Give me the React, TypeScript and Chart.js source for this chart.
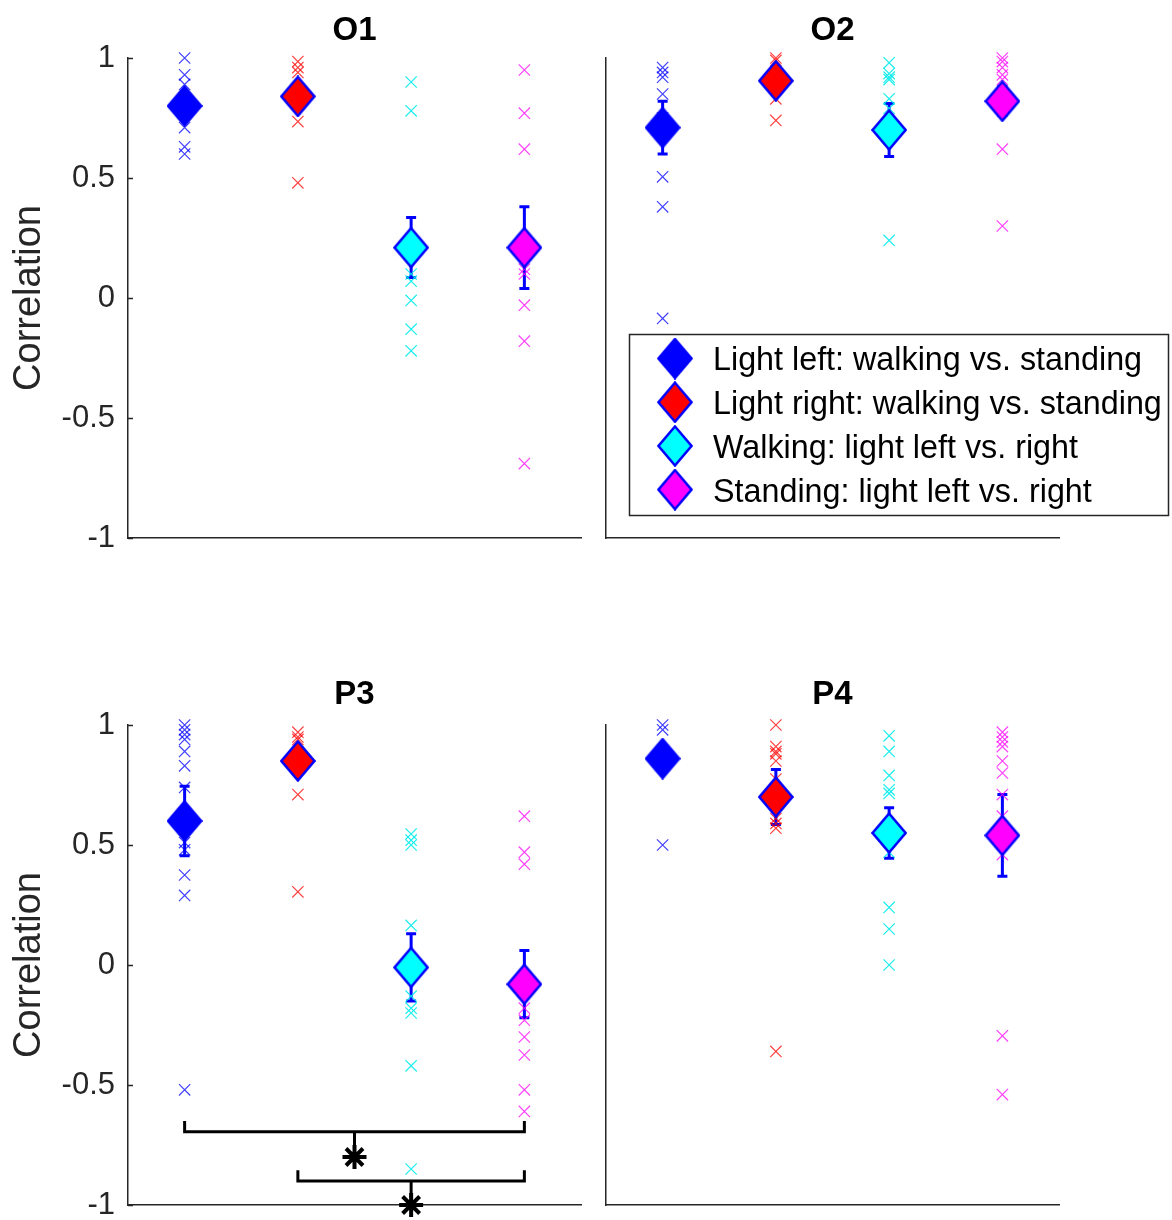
import React, { useEffect, useRef } from "react";
import { Chart, registerables } from "chart.js";

Chart.register(...registerables);

const FONT = '"Liberation Sans", Arial, Helvetica, sans-serif';
const AXIS_COLOR = "#262626";

// ---------- data ----------
const conditionLabels = [
  "Light left: walking vs. standing",
  "Light right: walking vs. standing",
  "Walking: light left vs. right",
  "Standing: light left vs. right",
];
const categoryX = [1, 2, 3, 4];
const yTickValues = [-1, -0.5, 0, 0.5, 1];
const yAxisLabel = "Correlation";
const panelTitles = ["O1", "O2", "P3", "P4"];

const markerFill = ["#0000ff", "#ff0000", "#00ffff", "#ff00ff"];
const crossColor = [
  "rgba(0,0,255,0.75)",
  "rgba(255,0,0,0.75)",
  "rgba(0,235,235,0.9)",
  "rgba(255,0,255,0.75)",
];

// O1
const o1LightLeft = [1.0, 0.93, 0.89, 0.82, 0.78, 0.71, 0.63, 0.6];
const o1LightRight = [0.985, 0.96, 0.94, 0.87, 0.84, 0.735, 0.48];
const o1Walking = [0.9, 0.78, 0.1, 0.07, -0.01, -0.13, -0.22];
const o1Standing = [0.95, 0.77, 0.62, 0.12, 0.1, -0.03, -0.18, -0.69];
const o1Means = [0.8, 0.84, 0.21, 0.21];
const o1Errors = [0.04, 0.05, 0.125, 0.17];

// O2
const o2LightLeft = [0.96, 0.94, 0.92, 0.85, 0.75, 0.7, 0.505, 0.38, -0.085];
const o2LightRight = [1.0, 0.99, 0.93, 0.9, 0.87, 0.83, 0.74];
const o2Walking = [0.98, 0.935, 0.92, 0.91, 0.83, 0.79, 0.7, 0.24];
const o2Standing = [1.0, 0.985, 0.96, 0.93, 0.91, 0.82, 0.62, 0.3];
const o2Means = [0.71, 0.905, 0.7, 0.82];
const o2Errors = [0.11, 0.04, 0.11, 0.06];

// P3
const p3LightLeft = [1.0, 0.98, 0.96, 0.94, 0.89, 0.83, 0.74, 0.51, 0.48, 0.375, 0.29, -0.52];
const p3LightRight = [0.97, 0.95, 0.94, 0.85, 0.71, 0.305];
const p3Walking = [0.546, 0.52, 0.5, 0.165, -0.13, -0.18, -0.2, -0.42, -0.85];
const p3Standing = [0.62, 0.47, 0.42, -0.18, -0.23, -0.3, -0.375, -0.52, -0.61];
const p3Means = [0.6, 0.85, -0.01, -0.08];
const p3Errors = [0.145, 0.05, 0.14, 0.14];

// P3 significance brackets
const p3BracketFrom = [1, 2];
const p3BracketTo = [4, 4];
const p3BracketEndY = [-0.65, -0.855];
const p3BracketBarY = [-0.695, -0.9];
const p3StarX = [2.5, 3];
const p3StarY = [-0.8, -1.0];

// P4
const p4LightLeft = [1.0, 0.98, 0.86, 0.5];
const p4LightRight = [1.0, 0.91, 0.89, 0.88, 0.85, 0.775, 0.61, 0.59, 0.57, -0.36];
const p4Walking = [0.955, 0.89, 0.79, 0.73, 0.715, 0.47, 0.24, 0.15, 0.0];
const p4Standing = [0.97, 0.95, 0.93, 0.91, 0.85, 0.8, 0.71, 0.62, 0.46, -0.295, -0.54];
const p4Means = [0.86, 0.7, 0.55, 0.54];
const p4Errors = [0.04, 0.115, 0.105, 0.17];

// ---------- layout ----------
type Panel = {
  title: string;
  groups: number[][];
  means: number[];
  errors: number[];
  yAxis: boolean;
  legend: boolean;
  brackets: boolean;
  left: number;
  top: number;
  w: number;
  h: number;
  padding: { left: number; right: number; top: number; bottom: number };
  titlePadding: { top: number; bottom: number };
};

const topTitlePad = { top: 11.2, bottom: 7.2 };
const bottomTitlePad = { top: 75.2, bottom: 10.2 };

const panels: Panel[] = [
  {
    title: panelTitles[0],
    groups: [o1LightLeft, o1LightRight, o1Walking, o1Standing],
    means: o1Means,
    errors: o1Errors,
    yAxis: true,
    legend: false,
    brackets: false,
    left: 0,
    top: 0,
    w: 590,
    h: 560,
    padding: { left: 0, right: 9, top: 0, bottom: 22 },
    titlePadding: topTitlePad,
  },
  {
    title: panelTitles[1],
    groups: [o2LightLeft, o2LightRight, o2Walking, o2Standing],
    means: o2Means,
    errors: o2Errors,
    yAxis: false,
    legend: true,
    brackets: false,
    left: 590,
    top: 0,
    w: 582,
    h: 560,
    padding: { left: 16, right: 113, top: 0, bottom: 22 },
    titlePadding: topTitlePad,
  },
  {
    title: panelTitles[2],
    groups: [p3LightLeft, p3LightRight, p3Walking, p3Standing],
    means: p3Means,
    errors: p3Errors,
    yAxis: true,
    legend: false,
    brackets: true,
    left: 0,
    top: 600,
    w: 590,
    h: 620,
    padding: { left: 0, right: 9, top: 0, bottom: 15 },
    titlePadding: bottomTitlePad,
  },
  {
    title: panelTitles[3],
    groups: [p4LightLeft, p4LightRight, p4Walking, p4Standing],
    means: p4Means,
    errors: p4Errors,
    yAxis: false,
    legend: false,
    brackets: false,
    left: 590,
    top: 600,
    w: 582,
    h: 620,
    padding: { left: 16, right: 113, top: 0, bottom: 15 },
    titlePadding: bottomTitlePad,
  },
];

// ---------- diamond marker images ----------
const diamondCache: Record<string, HTMLCanvasElement> = {};
function diamondImage(fill: string): HTMLCanvasElement {
  if (diamondCache[fill]) return diamondCache[fill];
  const c = document.createElement("canvas");
  c.width = 36;
  c.height = 42;
  const g = c.getContext("2d")!;
  g.beginPath();
  g.moveTo(18, 1.5);
  g.lineTo(34.5, 21);
  g.lineTo(18, 40.5);
  g.lineTo(1.5, 21);
  g.closePath();
  g.fillStyle = fill;
  g.fill();
  g.strokeStyle = "#0000ff";
  g.lineWidth = 2.5;
  g.lineJoin = "miter";
  g.stroke();
  diamondCache[fill] = c;
  return c;
}

function buildConfig(cfg: Panel): any {
  const datasets: any[] = [];
  cfg.means.forEach((m, i) => {
    datasets.push({
      label: conditionLabels[i],
      data: [{ x: categoryX[i], y: m }],
      pointStyle: diamondImage(markerFill[i]),
      pointRadius: 20,
      backgroundColor: markerFill[i],
      borderColor: "#0000ff",
      clip: false,
      order: 0,
    });
  });
  cfg.groups.forEach((vals, i) => {
    datasets.push({
      label: conditionLabels[i] + " (individual)",
      data: vals.map((v) => ({ x: categoryX[i], y: v })),
      pointStyle: "crossRot",
      pointRadius: 8,
      borderWidth: 1.2,
      borderColor: crossColor[i],
      backgroundColor: "transparent",
      clip: false,
      order: 1,
    });
  });
  if (cfg.brackets) {
    p3BracketFrom.forEach((from, k) => {
      const to = p3BracketTo[k];
      datasets.push({
        label: "bracket " + (k + 1),
        data: [
          { x: from, y: p3BracketEndY[k] },
          { x: from, y: p3BracketBarY[k] },
          { x: to, y: p3BracketBarY[k] },
          { x: to, y: p3BracketEndY[k] },
        ],
        showLine: true,
        borderColor: "#000",
        borderWidth: 3,
        pointRadius: 0,
        fill: false,
        clip: false,
        order: 2,
      });
      datasets.push({
        label: "stem " + (k + 1),
        data: [
          { x: p3StarX[k], y: p3BracketBarY[k] },
          { x: p3StarX[k], y: p3StarY[k] },
        ],
        showLine: true,
        borderColor: "#000",
        borderWidth: 3,
        pointRadius: 0,
        fill: false,
        clip: false,
        order: 2,
      });
    });
    datasets.push({
      label: "significance",
      data: p3StarX.map((x, k) => ({ x, y: p3StarY[k] })),
      pointStyle: "star",
      pointRadius: 12,
      borderWidth: 4,
      borderColor: "#000",
      backgroundColor: "#000",
      clip: false,
      order: 0,
    });
  }

  const extras = {
    id: "panelExtras",
    beforeDatasetsDraw(chart: any) {
      const { ctx } = chart;
      const x = chart.scales.x;
      const y = chart.scales.y;
      ctx.save();
      ctx.strokeStyle = "#0000ff";
      ctx.lineWidth = 3;
      ctx.lineCap = "butt";
      cfg.means.forEach((m, i) => {
        const px = x.getPixelForValue(categoryX[i]);
        const t = y.getPixelForValue(m + cfg.errors[i]);
        const b = y.getPixelForValue(m - cfg.errors[i]);
        ctx.beginPath();
        ctx.moveTo(px, t);
        ctx.lineTo(px, b);
        ctx.moveTo(px - 5, t);
        ctx.lineTo(px + 5, t);
        ctx.moveTo(px - 5, b);
        ctx.lineTo(px + 5, b);
        ctx.stroke();
      });
      ctx.restore();
    },
    afterDraw(chart: any) {
      const { ctx, chartArea } = chart;
      const y = chart.scales.y;
      if (cfg.yAxis) {
        ctx.save();
        ctx.strokeStyle = AXIS_COLOR;
        ctx.lineWidth = 1.5;
        yTickValues.forEach((v) => {
          const py = Math.round(y.getPixelForValue(v)) + 0.5;
          ctx.beginPath();
          ctx.moveTo(chartArea.left, py);
          ctx.lineTo(chartArea.left + 5, py);
          ctx.stroke();
        });
        ctx.restore();
      }
      if (cfg.legend) {
        const bx = 39.5;
        const by = 334.5;
        const bw = 539;
        const bh = 181;
        ctx.save();
        ctx.fillStyle = "#fff";
        ctx.fillRect(bx, by, bw, bh);
        ctx.strokeStyle = AXIS_COLOR;
        ctx.lineWidth = 1.5;
        ctx.strokeRect(bx, by, bw, bh);
        ctx.font = `32.3px ${FONT}`;
        ctx.textBaseline = "middle";
        ctx.textAlign = "left";
        ctx.fillStyle = "#000";
        for (let i = 0; i < 4; i++) {
          const ds = chart.data.datasets[i];
          const ry = by + 24 + i * 43.7;
          const img = ds.pointStyle as HTMLCanvasElement;
          ctx.drawImage(img, 85 - img.width / 2, ry - img.height / 2);
          ctx.fillText(ds.label, 123, ry + 3);
        }
        ctx.restore();
      }
    },
  };

  return {
    type: "scatter",
    data: { datasets },
    options: {
      responsive: false,
      animation: false,
      events: [],
      layout: { padding: cfg.padding, autoPadding: false },
      plugins: {
        legend: { display: false },
        tooltip: { enabled: false },
        title: {
          display: true,
          text: cfg.title,
          fullSize: false,
          color: "#000",
          font: { family: FONT, size: 33, weight: "bold", lineHeight: 1.2 },
          padding: cfg.titlePadding,
        },
      },
      scales: {
        x: {
          type: "linear",
          min: 0.5,
          max: 4.5,
          ticks: { display: false },
          grid: { display: false, drawTicks: false },
          border: { display: true, color: AXIS_COLOR, width: 1.5 },
          afterFit: (s: any) => {
            s.height = 0;
            s.paddingLeft = 0;
            s.paddingRight = 0;
          },
        },
        y: {
          type: "linear",
          min: -1,
          max: 1,
          afterBuildTicks: (s: any) => {
            s.ticks = yTickValues.map((v) => ({ value: v }));
          },
          ticks: {
            display: cfg.yAxis,
            padding: 13,
            color: AXIS_COLOR,
            font: { family: FONT, size: 31 },
            callback: (v: any) => String(v),
          },
          grid: { display: false, drawTicks: false },
          border: { display: true, color: AXIS_COLOR, width: 1.5 },
          title: {
            display: cfg.yAxis,
            text: yAxisLabel,
            color: AXIS_COLOR,
            font: { family: FONT, size: 38, lineHeight: 1.2 },
            padding: { top: 7.2, bottom: 0 },
          },
          afterFit: (s: any) => {
            s.width = cfg.yAxis ? 128 : 0;
            s.paddingTop = 0;
            s.paddingBottom = 0;
          },
        },
      },
    },
    plugins: [extras],
  };
}

function PanelChart({ cfg }: { cfg: Panel }) {
  const ref = useRef<HTMLCanvasElement>(null);
  useEffect(() => {
    const chart = new Chart(ref.current!, buildConfig(cfg));
    return () => chart.destroy();
  }, [cfg]);
  return (
    <canvas
      ref={ref}
      width={cfg.w}
      height={cfg.h}
      style={{ position: "absolute", left: cfg.left, top: cfg.top, width: cfg.w, height: cfg.h }}
    />
  );
}

export default function App() {
  return (
    <div style={{ position: "absolute", left: 0, top: 0, width: 1172, height: 1220, background: "#fff" }}>
      {panels.map((p) => (
        <PanelChart key={p.title} cfg={p} />
      ))}
    </div>
  );
}
